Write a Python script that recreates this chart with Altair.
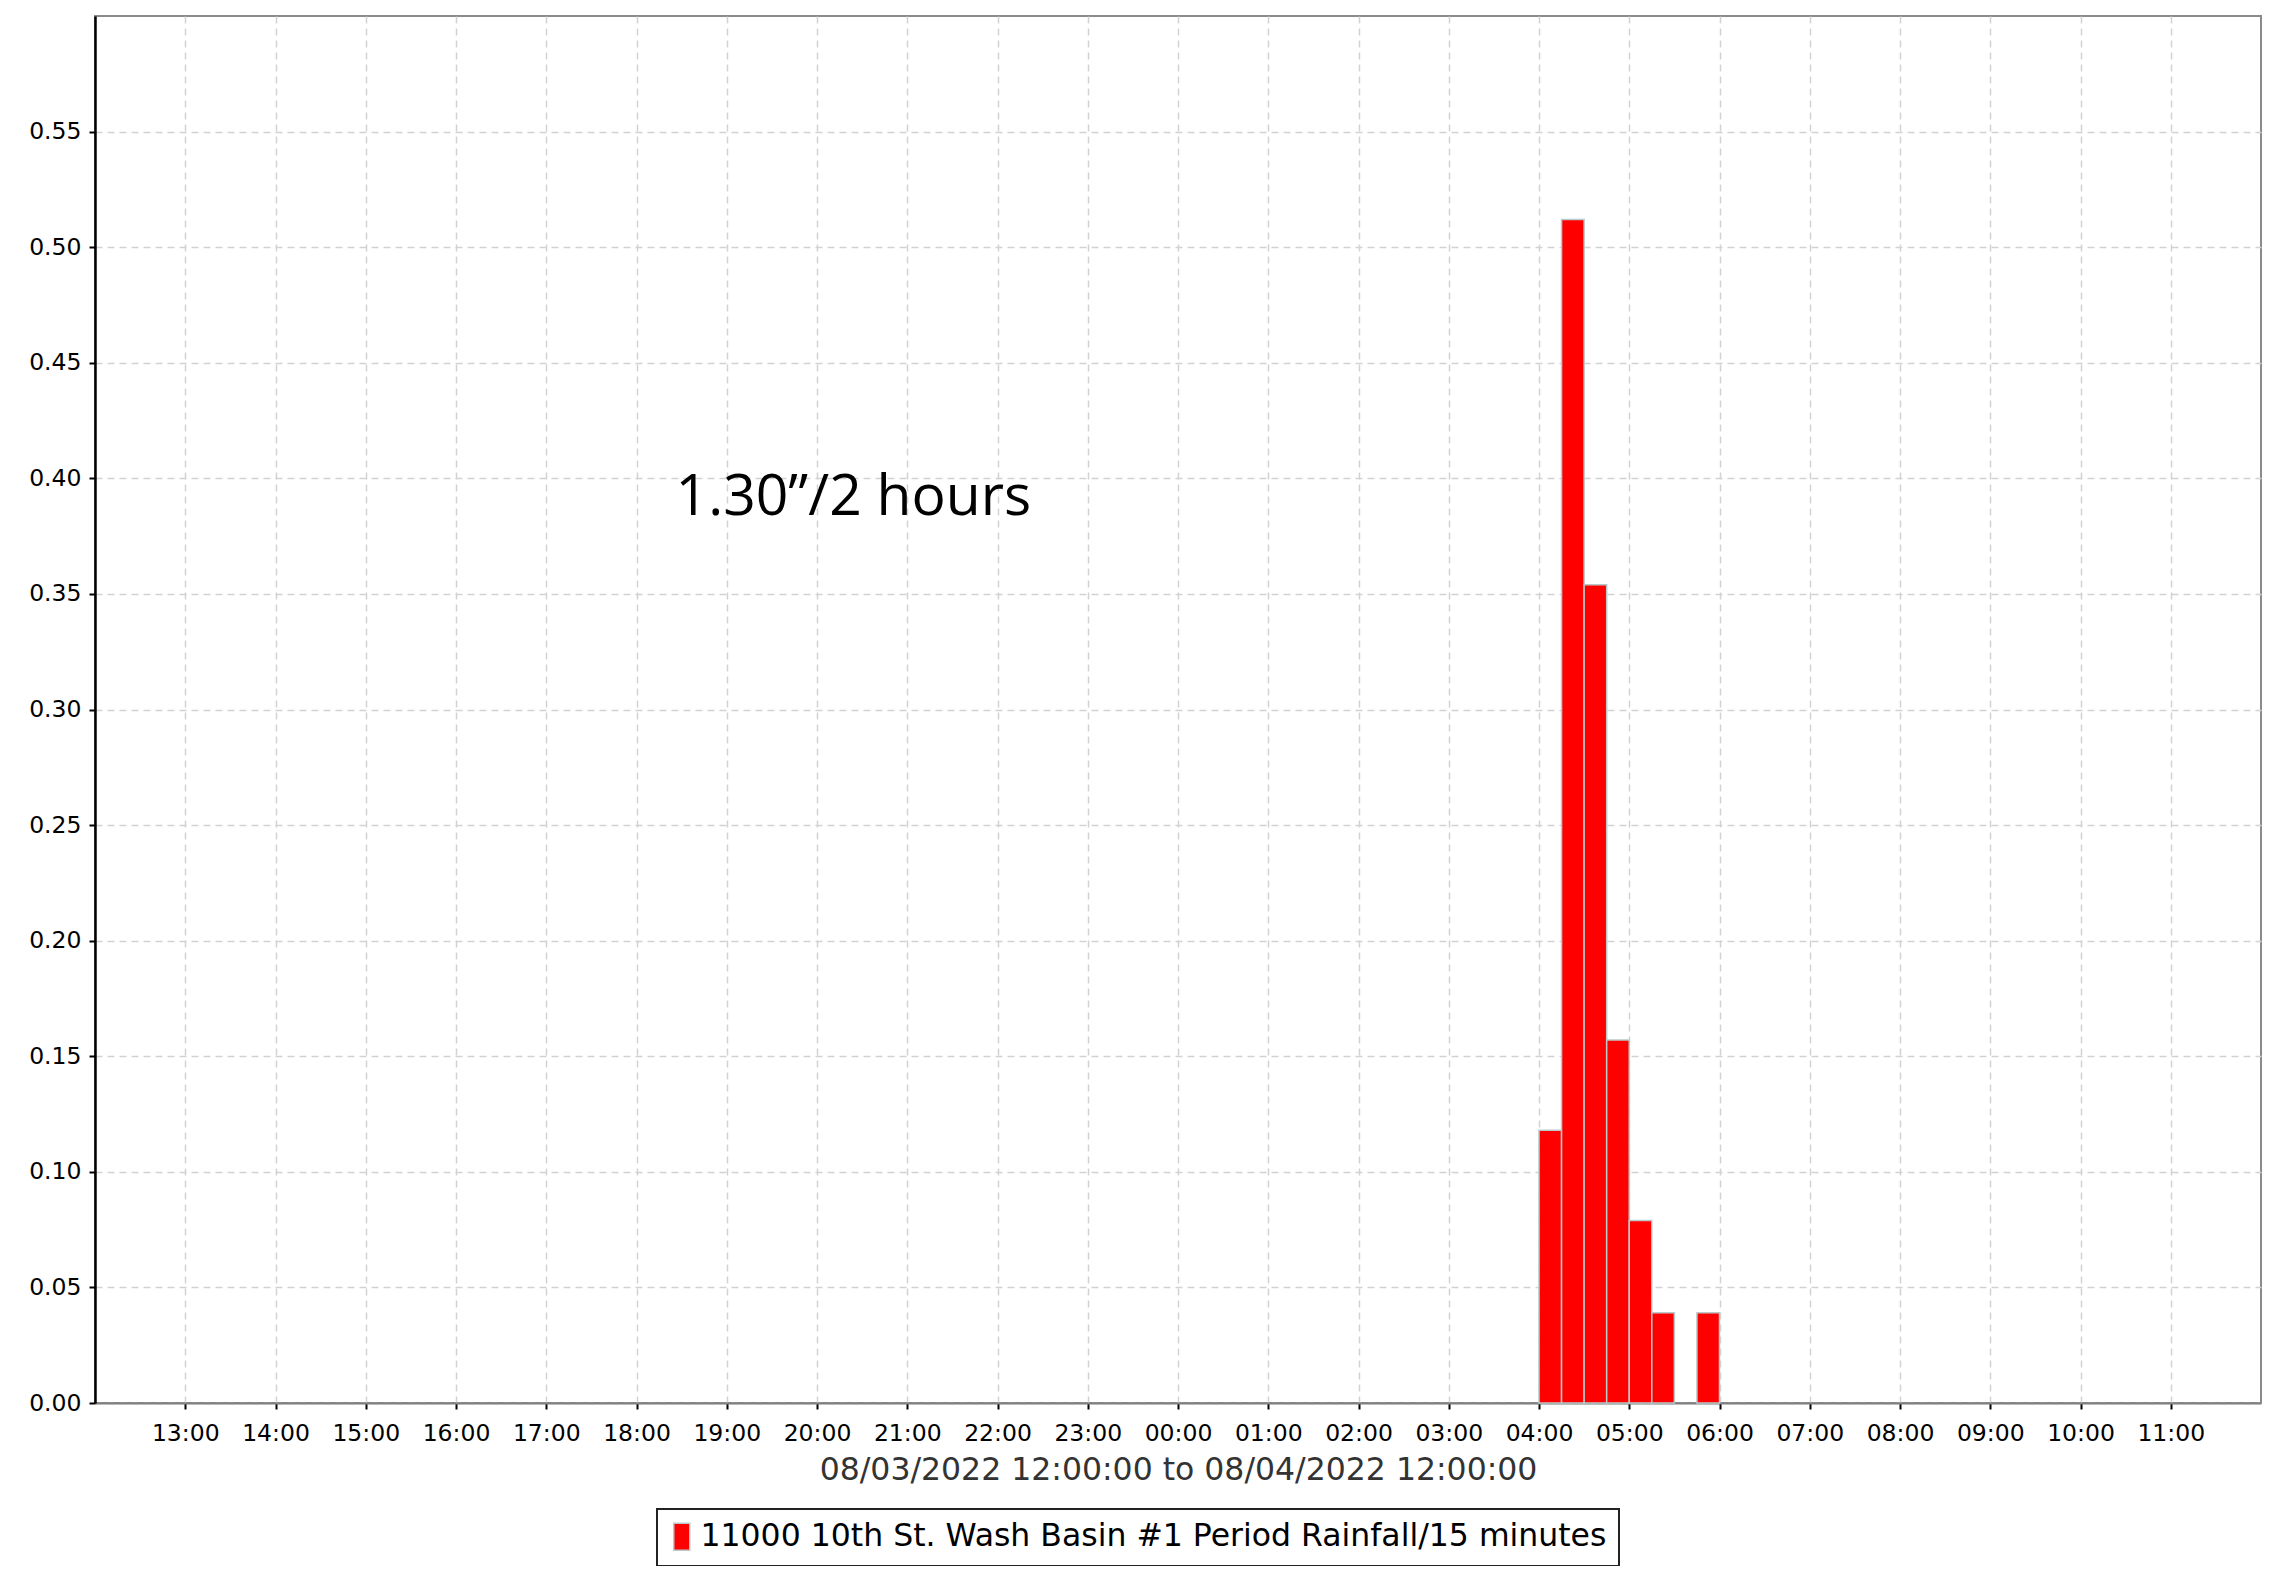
import altair as alt
import pandas as pd

# ---- data ----
interval_starts = [
    "2022-08-04T04:00:00Z", "2022-08-04T04:15:00Z", "2022-08-04T04:30:00Z",
    "2022-08-04T04:45:00Z", "2022-08-04T05:00:00Z", "2022-08-04T05:15:00Z",
    "2022-08-04T05:30:00Z", "2022-08-04T05:45:00Z",
]
rainfall_in = [0.118, 0.512, 0.354, 0.157, 0.079, 0.039, 0.0, 0.039]
series_name = "11000 10th St. Wash Basin #1 Period Rainfall/15 minutes"

tick_labels = ["13:00", "14:00", "15:00", "16:00", "17:00", "18:00", "19:00",
               "20:00", "21:00", "22:00", "23:00", "00:00", "01:00", "02:00",
               "03:00", "04:00", "05:00", "06:00", "07:00", "08:00", "09:00",
               "10:00", "11:00"]
y_ticks = [0.0, 0.05, 0.10, 0.15, 0.20, 0.25, 0.30, 0.35, 0.40, 0.45, 0.50, 0.55]
x_start = "2022-08-03T12:00:00Z"
x_end = "2022-08-04T12:00:00Z"
x_title = "08/03/2022 12:00:00 to 08/04/2022 12:00:00"

annotation_time = ["2022-08-03T18:26:00Z"]
annotation_value = [0.384]
annotation_text = ["1.30\u201d/2 hours"]

# ---- build tables ----
def to_ms(s):
    return int(pd.Timestamp(s).value // 10**6)

tick_ms = []
for lab in tick_labels:
    h = int(lab[:2])
    day = "2022-08-03" if h >= 13 else "2022-08-04"
    tick_ms.append(to_ms(f"{day}T{lab}:00Z"))

starts = pd.to_datetime(interval_starts, utc=True)
ends = starts + pd.Timedelta(minutes=15)
bars = pd.DataFrame({
    "start": [t.strftime("%Y-%m-%dT%H:%M:%SZ") for t in starts],
    "end": [t.strftime("%Y-%m-%dT%H:%M:%SZ") for t in ends],
    "rain": rainfall_in,
    "series": [series_name] * len(rainfall_in),
})
bars = bars[bars["rain"] > 0]

ann = pd.DataFrame({"time": annotation_time, "value": annotation_value,
                    "label": annotation_text})

FONT = "DejaVu Sans"
grid_color = "#d2d2d2"

x_scale = alt.Scale(type="utc", domain=[to_ms(x_start), to_ms(x_end)], nice=False)
y_scale = alt.Scale(domain=[0, 0.6], nice=False, zero=True)

x_axis = alt.Axis(
    values=tick_ms, format="%H:%M", title=x_title,
    titleFont=FONT, titleFontSize=31.5, titleFontWeight="normal",
    titleColor="#333333", titlePadding=10,
    labelFont=FONT, labelFontSize=23.5, labelColor="black", labelPadding=12,
    labelFlush=False, labelOverlap=False,
    tickSize=6, tickColor="black", tickWidth=2,
    domainColor="#808080", domainWidth=2,
    grid=True, gridColor=grid_color, gridDash=[7, 5], gridWidth=1.5,
)
y_axis = alt.Axis(
    values=y_ticks, format=".2f", title=None,
    labelFont=FONT, labelFontSize=23.5, labelColor="black", labelPadding=8,
    tickSize=6, tickColor="black", tickWidth=2,
    domainColor="black", domainWidth=2.5,
    grid=True, gridColor=grid_color, gridDash=[7, 5], gridWidth=1.5,
)

bar_layer = alt.Chart(bars).mark_bar(
    stroke="#b9c9c9", strokeWidth=1.5
).encode(
    x=alt.X("start:T", scale=x_scale, axis=x_axis),
    x2="end:T",
    y=alt.Y("rain:Q", scale=y_scale, axis=y_axis),
    y2=alt.datum(0),
    color=alt.Color(
        "series:N",
        scale=alt.Scale(domain=[series_name], range=["#ff0000"]),
        legend=alt.Legend(
            title=None, orient="none", legendX=562, legendY=1493,
            direction="horizontal",
            symbolType="M-1,-1.227L0.4545,-1.227L0.4545,1.227L-1,1.227Z",
            symbolSize=484,
            symbolStrokeColor="#b9c9c9", symbolStrokeWidth=1.5,
            labelFont=FONT, labelFontSize=31.5, labelColor="black",
            labelOffset=0, labelLimit=0, padding=12,
            strokeColor="#222222", fillColor="white",
        ),
    ),
)

text_layer = alt.Chart(ann).mark_text(
    font="Open Sans", fontSize=57, align="left", baseline="alphabetic", color="black"
).encode(
    x=alt.X("time:T", scale=x_scale),
    y=alt.Y("value:Q", scale=y_scale),
    text="label:N",
)

chart = alt.layer(bar_layer, text_layer).properties(
    width=2166, height=1387,
    padding={"left": 87, "top": 8, "right": 11, "bottom": 163},
    autosize=alt.AutoSizeParams(type="none"),
    background="white",
).configure_view(
    stroke="#8a8a8a", strokeWidth=2
).configure_legend(
    strokeWidth=2
)

chart.save("out.html", embed_options={"renderer": "svg", "actions": False})
